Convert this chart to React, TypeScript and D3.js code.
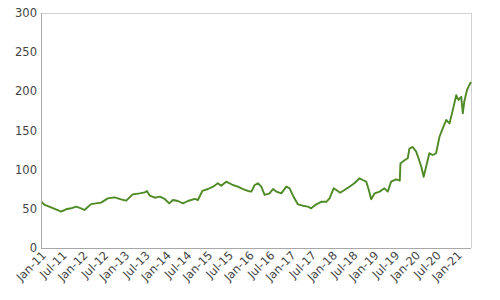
import React from "react";
import * as d3 from "d3";

const dates: string[] = [
  "2011-01-03","2011-02-03","2011-03-30","2011-05-28","2011-06-26","2011-08-09","2011-09-23","2011-11-06","2011-12-19",
  "2012-01-18","2012-03-16","2012-04-29","2012-06-12","2012-08-10","2012-10-08","2012-12-05",
  "2013-01-19","2013-03-17","2013-05-17","2013-07-01","2013-07-20","2013-08-14","2013-09-27","2013-11-10","2013-12-23",
  "2014-02-01","2014-03-05","2014-04-18","2014-06-02","2014-07-15","2014-09-13","2014-10-11","2014-11-19",
  "2015-01-08","2015-02-21","2015-04-04","2015-05-04","2015-06-17","2015-08-14","2015-09-27","2015-11-11","2015-12-24",
  "2016-01-24","2016-02-22","2016-03-21","2016-04-20","2016-05-19","2016-07-02","2016-08-01","2016-08-30","2016-10-13","2016-11-26","2016-12-25",
  "2017-01-24","2017-03-07","2017-04-20","2017-06-03","2017-07-03","2017-08-16","2017-09-29","2017-11-12","2017-12-11",
  "2018-01-16","2018-02-09","2018-03-14","2018-04-21","2018-06-04","2018-07-17","2018-08-31","2018-09-29","2018-10-29","2018-11-21","2018-12-12",
  "2019-01-11","2019-02-24","2019-04-07","2019-05-06","2019-06-05","2019-07-18","2019-08-20","2019-08-26","2019-10-01","2019-10-29","2019-11-13","2019-12-12",
  "2020-01-11","2020-02-01","2020-02-25","2020-03-17","2020-04-08","2020-05-06","2020-06-05","2020-07-04","2020-08-03","2020-09-01","2020-10-01","2020-10-30","2020-11-28","2020-12-28",
  "2021-01-17","2021-02-10","2021-02-24","2021-03-09","2021-04-02","2021-04-22","2021-05-07",
];

const prices: number[] = [
  59, 55, 52, 48.5, 46.4, 49.4, 50.7, 52.8, 50.7,
  48.5, 56, 57, 57.9, 63.4, 64.7, 62.1,
  60.4, 68.5, 69.8, 71, 72.8, 66.8, 64.2, 65.5, 62.6,
  57, 61.3, 60, 57, 60, 62.6, 61.3, 72.8,
  75.3, 78.3, 82.6, 79.5, 84.7, 80.4, 78.3, 75.3, 72.8,
  72, 80.4, 82.6, 78.3, 67.7, 69.8, 75.3, 72, 69.8, 78.3, 76.2,
  66.8, 55.8, 54, 52.8, 50.7, 55.8, 59, 59, 63.4,
  76.2, 74, 70.6, 74, 78.3, 82.6, 89, 86.8, 84.7, 74, 62.1,
  69.8, 72, 76.2, 72, 84.7, 87.7, 86, 108, 112, 114.5, 127, 129,
  123, 114.5, 103.8, 91, 104, 121, 118.7, 121, 142, 152.8, 163.4, 159, 176, 195,
  189, 193, 172, 187, 201.7, 208, 212,
];

const yTicks: number[] = [0, 50, 100, 150, 200, 250, 300];
const xTickLabels: string[] = [
  "Jan-11","Jul-11","Jan-12","Jul-12","Jan-13","Jul-13","Jan-14","Jul-14","Jan-15","Jul-15","Jan-16",
  "Jul-16","Jan-17","Jul-17","Jan-18","Jul-18","Jan-19","Jul-19","Jan-20","Jul-20","Jan-21",
];

const W = 500, H = 300;
const M = { left: 41, right: 29, top: 13, bottom: 52 };

export default function App() {
  const parse = d3.timeParse("%Y-%m-%d");
  const data = dates.map((d, i) => ({ date: parse(d) as Date, v: prices[i] }));
  const start = new Date(2011, 0, 1);
  const end = data[data.length - 1].date;
  const x = d3.scaleTime().domain([start, end]).range([M.left, W - M.right]);
  const y = d3.scaleLinear().domain([0, 300]).range([H - M.bottom, M.top]);
  const line = d3.line<{ date: Date; v: number }>().x(d => x(d.date)).y(d => y(d.v));
  const xTicks = d3.timeMonth.every(6)!.range(start, end);
  const fmt = d3.timeFormat("%b-%y");
  const font = "DejaVu Sans, sans-serif";
  const x0 = M.left, x1 = W - M.right, y0 = M.top, y1 = H - M.bottom;
  return (
    <div style={{ position: "fixed", left: 0, top: 0, width: W, height: H, background: "#fff" }}>
      <svg width={W} height={H} style={{ display: "block" }}>
        <rect x={0} y={0} width={W} height={H} fill="#fff" />
        <line x1={x0} x2={x1} y1={y0 + 0.5} y2={y0 + 0.5} stroke="#d0d0d0" />
        <line x1={x1 + 0.5} x2={x1 + 0.5} y1={y0} y2={y1} stroke="#d0d0d0" />
        <path d={line(data) || ""} fill="none" stroke="#4e8a26" strokeWidth={1.9} strokeLinejoin="round" />
        <line x1={x0 + 0.5} x2={x0 + 0.5} y1={y0} y2={y1} stroke="#a8a8a8" />
        <line x1={x0} x2={x1} y1={y1 + 0.5} y2={y1 + 0.5} stroke="#a8a8a8" />
        {yTicks.map(t => (
          <text key={t} x={37} y={y(t)} dy="0.36em" textAnchor="end" fontFamily={font} fontSize={11.5} fill="#444">
            {t}
          </text>
        ))}
        {xTicks.map((t, i) => (
          <text key={i} transform={`translate(${x(t) + 6},${y1 + 8}) rotate(-45)`} textAnchor="end"
            fontFamily={font} fontSize={11.5} fill="#444">
            {xTickLabels[i] ?? fmt(t)}
          </text>
        ))}
      </svg>
    </div>
  );
}
